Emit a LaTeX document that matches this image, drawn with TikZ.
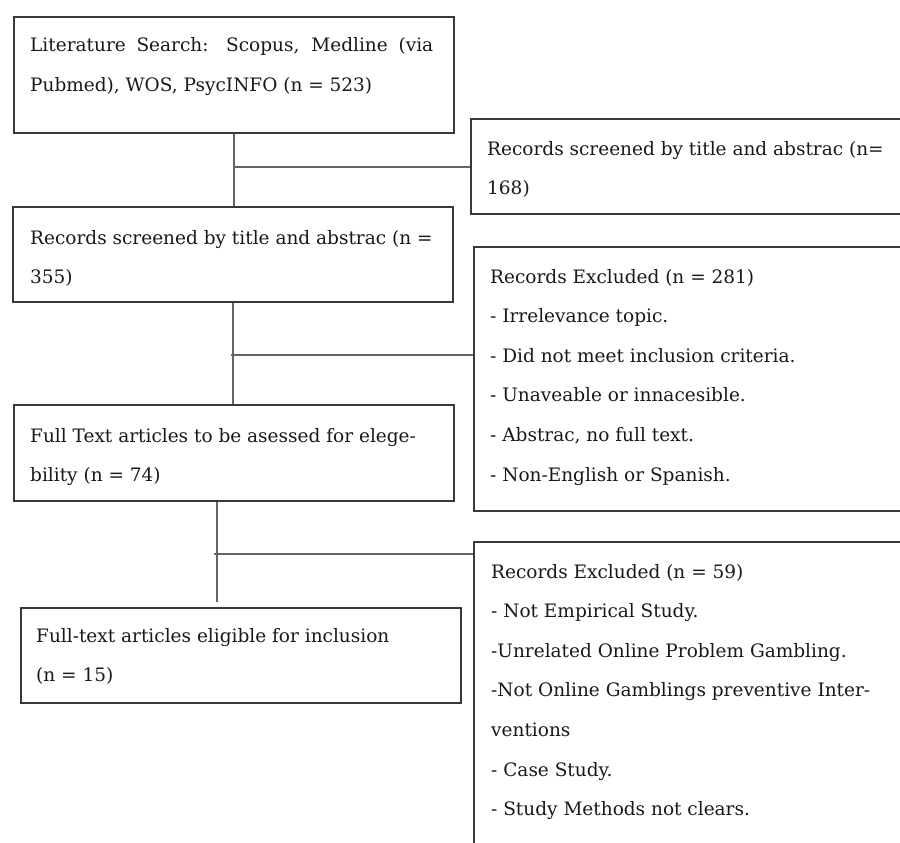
\documentclass[tikz,border=0pt]{standalone}
\usepackage{fontspec}
\setmainfont{DejaVu Serif}
\usetikzlibrary{calc}
\newcommand{\bxt}[1]{\parbox[t]{412pt}{\fontsize{18.5}{39.6}\selectfont\raggedright #1}}
\begin{document}
\begin{tikzpicture}[x=1pt,y=-1pt,
  box/.style={draw=black!78, line width=2pt, inner sep=0pt, anchor=north west},
  link/.style={draw=black!60, line width=2pt},
  txt/.style={anchor=base west, inner sep=0pt, text=black!90}]
\clip (0,0) rectangle (900,843);
\fill[white] (0,0) rectangle (900,843);
% left column boxes
\node[box, minimum width=440pt, minimum height=116pt] (b1) at (13,16) {};
\node[box, minimum width=440pt, minimum height=95pt] (b2) at (12,206) {};
\node[box, minimum width=440pt, minimum height=96pt] (b3) at (13,404) {};
\node[box, minimum width=440pt, minimum height=95pt] (b4) at (20,607) {};
% right column boxes (run off the page)
\node[box, minimum width=450pt, minimum height=95pt] (r1) at (470,118) {};
\node[box, minimum width=450pt, minimum height=264pt] (r2) at (473,246) {};
\node[box, minimum width=450pt, minimum height=330pt] (r3) at (473,541) {};
% texts
\node[txt] (t1) at (30,52) {\bxt{\makebox[403pt][s]{Literature Search: Scopus, Medline (via}\\Pubmed), WOS, PsycINFO (n = 523)}};
\node[txt] (t2) at (30,244) {\bxt{Records screened by title and abstrac (n =\\355)}};
\node[txt] (t3) at (30,442) {\bxt{Full Text articles to be asessed for elege-\\bility (n = 74)}};
\node[txt] (t4) at (36,642) {\bxt{Full-text articles eligible for inclusion\\(n = 15)}};
\node[txt] (u1) at (487,155) {\bxt{Records screened by title and abstrac (n=\\168)}};
\node[txt] (u2) at (490,283) {\bxt{Records Excluded (n = 281)\\- Irrelevance topic.\\- Did not meet inclusion criteria.\\- Unaveable or innacesible.\\- Abstrac, no full text.\\- Non-English or Spanish.}};
\node[txt] (u3) at (491,578) {\bxt{Records Excluded (n = 59)\\- Not Empirical Study.\\-Unrelated Online Problem Gambling.\\-Not Online Gamblings preventive Inter-\\ventions\\- Case Study.\\- Study Methods not clears.}};
% connectors
\coordinate (j1) at (233,167);
\coordinate (j2) at (231,355);
\coordinate (j3) at (214,554);
\coordinate (e3) at (217,602);
\draw[link] (b1.south) -- (b1.south |- b2.north);
\draw[link] (j1) -- (j1 -| r1.west);
\draw[link] (b2.south) -- (b2.south |- b3.north);
\draw[link] (j2) -- (j2 -| r2.west);
\draw[link] (e3 |- b3.south) -- (e3);
\draw[link] (j3) -- (j3 -| r3.west);
\end{tikzpicture}
\end{document}
